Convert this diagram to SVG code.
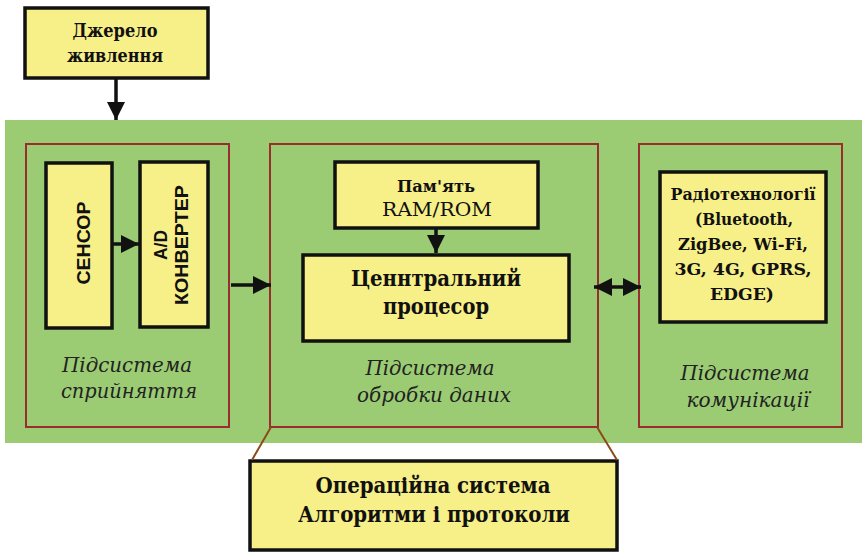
<svg xmlns="http://www.w3.org/2000/svg" width="862" height="553" viewBox="0 0 862 553">
<defs>
<style>
.box{fill:#f7ef88;stroke:#111;stroke-width:3.5}
.sub{fill:none;stroke:#9a2d2d;stroke-width:2}
.bt{font-family:"DejaVu Serif","Liberation Serif",serif;font-weight:bold;fill:#111;text-anchor:middle}
.nt{font-family:"DejaVu Serif","Liberation Serif",serif;fill:#111;text-anchor:middle}
.st{font-family:"Liberation Sans",Arial,sans-serif;font-weight:bold;fill:#111;text-anchor:middle;font-size:19px}
.it{font-family:"DejaVu Serif","Liberation Serif",serif;font-style:italic;fill:#222;text-anchor:middle;font-size:20px}
.ln{stroke:#111;stroke-width:3.5;fill:none}
.br{stroke:#8b4a1a;stroke-width:2;fill:none}
</style>
<marker id="ah" viewBox="0 0 10 10" refX="10" refY="5" markerWidth="5.2" markerHeight="5.2" orient="auto-start-reverse" markerUnits="strokeWidth">
<path d="M0,0 L10,5 L0,10 Z" fill="#111"/>
</marker>
</defs>
<rect x="5" y="120" width="857" height="323" fill="#9bcc73"/>
<g id="power">
<rect class="box" x="25" y="8" width="183" height="70"/>
<text class="bt" font-size="19" x="115" y="37" textLength="85" lengthAdjust="spacingAndGlyphs">Джерело</text>
<text class="bt" font-size="19" x="115" y="62" textLength="96" lengthAdjust="spacingAndGlyphs">живлення</text>
</g>
<g id="sub-perception">
<rect class="sub" x="26" y="144" width="203" height="283"/>
<text class="it" x="127" y="372" textLength="130" lengthAdjust="spacingAndGlyphs">Підсистема</text>
<text class="it" x="129" y="398" textLength="136" lengthAdjust="spacingAndGlyphs">сприйняття</text>
</g>
<g id="sensor">
<rect class="box" x="46" y="163" width="66" height="165"/>
<text class="st" transform="translate(90,243) rotate(-90)" textLength="83" lengthAdjust="spacingAndGlyphs">СЕНСОР</text>
</g>
<g id="adc">
<rect class="box" x="140" y="162" width="68" height="165"/>
<text class="st" transform="translate(167,245) rotate(-90)" textLength="30" lengthAdjust="spacingAndGlyphs">A/D</text>
<text class="st" transform="translate(188,245) rotate(-90)" textLength="120" lengthAdjust="spacingAndGlyphs">КОНВЕРТЕР</text>
</g>
<g id="sub-processing">
<rect class="sub" x="270" y="144" width="328" height="283"/>
<text class="it" x="430" y="375" textLength="129" lengthAdjust="spacingAndGlyphs">Підсистема</text>
<text class="it" x="434" y="402" textLength="154" lengthAdjust="spacingAndGlyphs">обробки даних</text>
</g>
<g id="memory">
<rect class="box" x="335" y="162" width="203" height="66"/>
<text class="bt" font-size="17" x="436" y="192" textLength="78" lengthAdjust="spacingAndGlyphs">Пам'ять</text>
<text class="nt" font-size="19" x="437" y="216" textLength="110" lengthAdjust="spacingAndGlyphs">RAM/ROM</text>
</g>
<g id="cpu">
<rect class="box" x="303" y="255" width="266" height="86"/>
<text class="bt" font-size="22" x="436" y="286" textLength="170" lengthAdjust="spacingAndGlyphs">Ценнтральний</text>
<text class="bt" font-size="22" x="436" y="314" textLength="106" lengthAdjust="spacingAndGlyphs">процесор</text>
</g>
<g id="sub-communication">
<rect class="sub" x="639" y="144" width="203" height="283"/>
<text class="it" x="745" y="380" textLength="129" lengthAdjust="spacingAndGlyphs">Підсистема</text>
<text class="it" x="748" y="407" textLength="123" lengthAdjust="spacingAndGlyphs">комунікації</text>
</g>
<g id="radio">
<rect class="box" x="660" y="172" width="166" height="150"/>
<text class="bt" font-size="17" x="743" y="200" textLength="145" lengthAdjust="spacingAndGlyphs">Радіотехнології</text>
<text class="bt" font-size="17" x="744" y="225" textLength="98" lengthAdjust="spacingAndGlyphs">(Bluetooth,</text>
<text class="bt" font-size="17" x="743" y="250" textLength="130" lengthAdjust="spacingAndGlyphs">ZigBee, Wi-Fi,</text>
<text class="bt" font-size="17" x="743" y="275" textLength="137" lengthAdjust="spacingAndGlyphs">3G, 4G, GPRS,</text>
<text class="bt" font-size="17" x="742" y="300" textLength="64" lengthAdjust="spacingAndGlyphs">EDGE)</text>
</g>
<g id="os">
<rect class="box" x="250" y="461" width="367" height="89"/>
<text class="bt" font-size="22" x="433" y="493" textLength="235" lengthAdjust="spacingAndGlyphs">Операційна система</text>
<text class="bt" font-size="22" x="434" y="522" textLength="272" lengthAdjust="spacingAndGlyphs">Алгоритми і протоколи</text>
</g>
<g id="connectors">
<line class="ln" x1="116" y1="79" x2="116" y2="120" marker-end="url(#ah)"/>
<line class="ln" x1="113" y1="244" x2="139" y2="244" marker-end="url(#ah)"/>
<line class="ln" x1="231" y1="285" x2="271" y2="285" marker-end="url(#ah)"/>
<line class="ln" x1="436" y1="229" x2="436" y2="253" marker-end="url(#ah)"/>
<line class="ln" x1="594" y1="287" x2="641" y2="287" marker-start="url(#ah)" marker-end="url(#ah)"/>
<line class="br" x1="271" y1="427" x2="252" y2="460"/>
<line class="br" x1="597" y1="427" x2="617" y2="460"/>
</g>
</svg>
